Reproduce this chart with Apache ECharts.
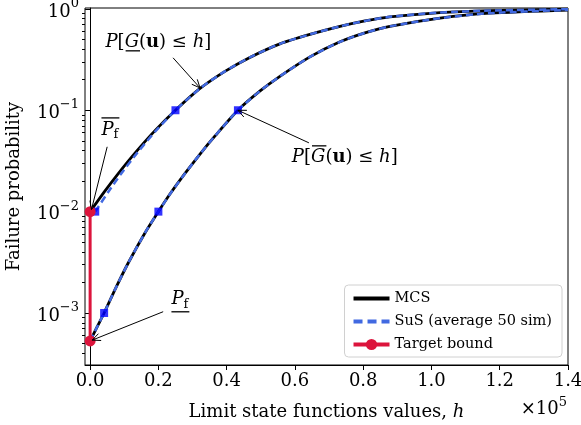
<!DOCTYPE html>
<html>
<head>
<meta charset="utf-8">
<script src="https://cdn.jsdelivr.net/npm/echarts@6/dist/echarts.min.js"></script>
<style>
  html, body { margin: 0; padding: 0; background: #fff; }
  #chart { width: 581px; height: 425px; }
</style>
</head>
<body>
<div id="chart"></div>
<script>
// h is given in units of 1e5
const hUpperMCS = [0, 0.041, 0.083, 0.132, 0.19, 0.25, 0.322, 0.395, 0.468, 0.556, 0.644, 0.732, 0.805, 0.878, 1.025, 1.171, 1.4]
const pUpperMCS = [0.01, 0.0156, 0.0239, 0.038, 0.0629, 0.1, 0.164, 0.242, 0.332, 0.452, 0.56, 0.672, 0.761, 0.834, 0.92, 0.962, 0.993]
const hUpperSuS = [0.015, 0.053, 0.092, 0.138, 0.193, 0.25, 0.322, 0.395, 0.468, 0.556, 0.644, 0.732, 0.805, 0.878, 1.025, 1.171, 1.4]
const pUpperSuS = [0.01, 0.0156, 0.0239, 0.038, 0.0629, 0.1, 0.164, 0.242, 0.332, 0.452, 0.56, 0.672, 0.761, 0.834, 0.92, 0.962, 0.993]
const hLowerMCS = [0, 0.0205, 0.041, 0.076, 0.112, 0.161, 0.2, 0.234, 0.278, 0.322, 0.366, 0.433, 0.498, 0.556, 0.644, 0.732, 0.805, 0.878, 1.025, 1.171, 1.4]
const pLowerMCS = [5.3e-4, 7.3e-4, 1.0e-3, 1.79e-3, 3.13e-3, 6.19e-3, 0.01, 0.0149, 0.0238, 0.037, 0.0558, 0.1, 0.155, 0.216, 0.336, 0.473, 0.58, 0.672, 0.81, 0.907, 0.975]
const hLowerSuS = [0, 0.0205, 0.041, 0.076, 0.112, 0.161, 0.2, 0.234, 0.278, 0.322, 0.366, 0.433, 0.498, 0.556, 0.644, 0.732, 0.805, 0.878, 1.025, 1.171, 1.4]
const pLowerSuS = [5.3e-4, 7.3e-4, 1.0e-3, 1.79e-3, 3.13e-3, 6.19e-3, 0.01, 0.0149, 0.0238, 0.037, 0.0558, 0.1, 0.155, 0.216, 0.336, 0.473, 0.58, 0.672, 0.81, 0.907, 0.975]
// SuS intermediate levels (square markers)
const hLevels = [0.015, 0.25, 0.041, 0.2, 0.433]
const pLevels = [0.01, 0.1, 0.001, 0.01, 0.1]
// target bound
const hTarget = [0, 0]
const pTarget = [0.01, 5.3e-4]

const xTicks = [0, 0.2, 0.4, 0.6, 0.8, 1.0, 1.2, 1.4]
const yMajor = [1e-3, 1e-2, 1e-1, 1]
const yMinor = [4e-4, 5e-4, 6e-4, 7e-4, 8e-4, 9e-4,
  2e-3, 3e-3, 4e-3, 5e-3, 6e-3, 7e-3, 8e-3, 9e-3,
  2e-2, 3e-2, 4e-2, 5e-2, 6e-2, 7e-2, 8e-2, 9e-2,
  0.2, 0.3, 0.4, 0.5, 0.6, 0.7, 0.8, 0.9]

const FONT = 'DejaVu Serif'
const zip = (a, b) => a.map((v, i) => [v, b[i]])

const chart = echarts.init(document.getElementById('chart'))

const supLabel = v => {
  const e = Math.round(Math.log10(v))
  return '{b|10}{s|' + (e < 0 ? '\u2212' + (-e) : e) + '}'
}

const curve = (name, h, p, color, width, type, z) => ({
  name, type: 'line', data: zip(h, p), smooth: 0.25,
  showSymbol: false, symbol: 'none', z,
  lineStyle: { color, width, type }, itemStyle: { color }
})

chart.setOption({
  animation: false,
  grid: {
    left: 85, right: 13, top: 8, bottom: 60, outerBoundsMode: 'none',
    show: true, borderColor: '#000', borderWidth: 1
  },
  legend: {
    data: [
      { name: 'MCS', itemStyle: { opacity: 0 }, lineStyle: { width: 4 } },
      { name: 'SuS (average 50 sim)', itemStyle: { opacity: 0 }, lineStyle: { width: 4, type: [9, 5] } },
      { name: 'Target bound', lineStyle: { width: 4 } }
    ],
    orient: 'vertical',
    right: 19,
    bottom: 68,
    itemWidth: 36,
    itemHeight: 14,
    itemGap: 8,
    padding: [6, 10, 5, 7],
    borderColor: '#d0d0d0',
    borderWidth: 1,
    borderRadius: 4,
    backgroundColor: 'rgba(255,255,255,0.8)',
    textStyle: { fontFamily: FONT, fontSize: 14.5, color: '#000' }
  },
  xAxis: {
    type: 'value',
    min: -0.015,
    max: 1.4,
    name: '{n|Limit state functions values, }{i|h}',
    nameLocation: 'middle',
    nameGap: 38,
    nameTextStyle: {
      rich: {
        n: { fontFamily: FONT, fontSize: 18, color: '#000' },
        i: { fontFamily: FONT, fontSize: 18, fontStyle: 'italic', color: '#000' }
      }
    },
    axisLine: { lineStyle: { color: '#000', width: 1 } },
    axisTick: { customValues: xTicks, length: 5, lineStyle: { color: '#000' } },
    axisLabel: {
      customValues: xTicks,
      margin: 7,
      formatter: v => v.toFixed(1),
      fontFamily: FONT, fontSize: 18, color: '#000'
    },
    splitLine: { show: false }
  },
  yAxis: [{
    type: 'log',
    logBase: 10,
    min: 3.07e-4,
    max: 1.02,
    position: 'left',
    name: 'Failure probability',
    nameLocation: 'middle',
    nameGap: 62,
    nameRotate: 90,
    nameTextStyle: { fontFamily: FONT, fontSize: 18, color: '#000' },
    axisLine: { show: true, lineStyle: { color: '#000', width: 1 } },
    axisTick: { customValues: yMajor, length: 5, lineStyle: { color: '#000' } },
    axisLabel: {
      customValues: yMajor,
      margin: 6,
      formatter: supLabel,
      rich: {
        b: { fontFamily: FONT, fontSize: 18, color: '#000', verticalAlign: 'bottom', lineHeight: 24 },
        s: { fontFamily: FONT, fontSize: 13, color: '#000', verticalAlign: 'top', lineHeight: 14 }
      }
    },
    splitLine: { show: false }
  }, {
    type: 'log',
    logBase: 10,
    min: 3.07e-4,
    max: 1.02,
    position: 'left',
    axisLine: { show: false },
    axisTick: { customValues: yMinor, length: 3, lineStyle: { color: '#000' } },
    axisLabel: { show: false },
    splitLine: { show: false }
  }],
  series: [
    curve('MCS', hUpperMCS, pUpperMCS, '#000', 2.8, 'solid', 2),
    curve('MCS', hLowerMCS, pLowerMCS, '#000', 2.8, 'solid', 2),
    curve('SuS (average 50 sim)', hUpperSuS, pUpperSuS, '#4169e1', 2.5, [7, 4], 3),
    curve('SuS (average 50 sim)', hLowerSuS, pLowerSuS, '#4169e1', 2.5, [7, 4], 3),
    {
      name: 'levels', type: 'scatter', data: zip(hLevels, pLevels),
      symbol: 'rect', symbolSize: 8, z: 4,
      itemStyle: { color: '#0000ff' }
    },
    {
      name: 'Target bound', type: 'line', data: zip(hTarget, pTarget),
      symbol: 'circle', symbolSize: 11, showSymbol: true, z: 5,
      lineStyle: { color: '#dc143c', width: 3 }, itemStyle: { color: '#dc143c' }
    }
  ]
})

// ---- annotations ----
const ctx = document.createElement('canvas').getContext('2d')
const fontStr = p => (p.it ? 'italic ' : '') + (p.bold ? 'bold ' : '') + (p.size || 18) + 'px "' + FONT + '"'
const measure = p => { ctx.font = fontStr(p); return ctx.measureText(p.t).width }
const px = (h, p) => chart.convertToPixel({ xAxisIndex: 0, yAxisIndex: 0 }, [h, p])

function mathText (parts, h, p, bar) {
  const [cx, cy] = px(h, p)
  const widths = parts.map(measure)
  const total = widths.reduce((a, b) => a + b, 0)
  let x = cx - total / 2
  const els = []
  parts.forEach((part, i) => {
    const dy = part.sub ? 5 : 0
    els.push({
      type: 'text', x: x, y: cy + dy, z: 10,
      style: { text: part.t, font: fontStr(part), fill: '#000', align: 'left', verticalAlign: 'middle' }
    })
    if (part.over || part.under) {
      const ly = part.over ? cy - 11 : cy + 9
      els.push({ type: 'line', z: 10, shape: { x1: x + 1, y1: ly, x2: x + widths[i] + 1, y2: ly }, style: { stroke: '#000', lineWidth: 1.3 } })
    }
    x += widths[i]
  })
  if (bar) {
    const ly = bar === 'over' ? cy - 12 : cy + 12
    els.push({ type: 'line', z: 10, shape: { x1: cx - total / 2, y1: ly, x2: cx + total / 2 + 1, y2: ly }, style: { stroke: '#000', lineWidth: 1.3 } })
  }
  return els
}

function arrow (h0, p0, h1, p1) {
  const [x0, y0] = px(h0, p0)
  const [x1, y1] = px(h1, p1)
  const a = Math.atan2(y1 - y0, x1 - x0)
  const L = 9, w = 0.42
  const pA = [x1 - L * Math.cos(a - w), y1 - L * Math.sin(a - w)]
  const pB = [x1 - L * Math.cos(a + w), y1 - L * Math.sin(a + w)]
  return [
    { type: 'line', z: 10, shape: { x1: x0, y1: y0, x2: x1, y2: y1 }, style: { stroke: '#000', lineWidth: 1 } },
    { type: 'polyline', z: 10, shape: { points: [pA, [x1, y1], pB] }, style: { stroke: '#000', lineWidth: 1, fill: null } }
  ]
}

const gLower = [
  { t: 'P', it: true }, { t: '[' }, { t: 'G', it: true, under: true }, { t: '(' }, { t: 'u', bold: true },
  { t: ') \u2264 ' }, { t: 'h', it: true }, { t: ']' }
]
const gUpper = [
  { t: 'P', it: true }, { t: '[' }, { t: 'G', it: true, over: true }, { t: '(' }, { t: 'u', bold: true },
  { t: ') \u2264 ' }, { t: 'h', it: true }, { t: ']' }
]
const pf = [{ t: 'P', it: true }, { t: 'f', size: 13, sub: true }]

const [xr] = px(1.4, 1)
const [, yb] = px(0, 3.07e-4)

const graphics = [].concat(
  mathText(gLower, 0.2, 0.473),
  arrow(0.243, 0.329, 0.322, 0.166),
  mathText(gUpper, 0.746, 0.0347),
  arrow(0.641, 0.0477, 0.433, 0.1),
  mathText(pf, 0.058, 0.064, 'over'),
  arrow(0.05, 0.0436, 0.004, 0.0105),
  mathText(pf, 0.263, 0.00135, 'under'),
  arrow(0.214, 0.00103, 0.006, 5.4e-4),
  [
    { type: 'text', x: xr - 1, y: yb + 42, style: { text: '{a|\u00d710}{s|5}', align: 'right', verticalAlign: 'middle',
      rich: { a: { fontFamily: FONT, fontSize: 18, fill: '#000', verticalAlign: 'bottom', lineHeight: 22 },
              s: { fontFamily: FONT, fontSize: 13, fill: '#000', verticalAlign: 'top', lineHeight: 14 } } } }
  ]
)

chart.setOption({ graphic: graphics })
</script>
</body>
</html>
